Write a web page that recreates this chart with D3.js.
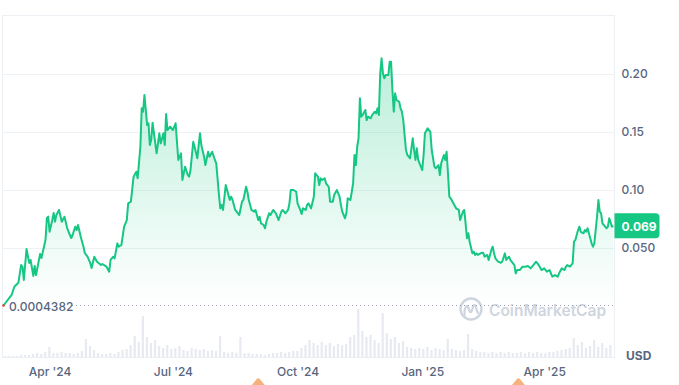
<!DOCTYPE html>
<html>
<head>
<meta charset="utf-8">
<script src="https://cdn.jsdelivr.net/npm/d3@7"></script>
<style>
  body { margin: 0; background: #fff; }
  svg { display: block; font-family: Inter, "Noto Sans", sans-serif; }
</style>
</head>
<body>
<svg width="679" height="385"></svg>
<script>
// ---- data ----
let startDate = new Date(2024, 1, 27);   // first point of the series
let lastPrice = 0.069;
let lowPrice = 0.0004382;

// day offsets from startDate, and price (USD) on that day
let days = [0,6,8,10,11,13,14,15,17,19,20,22,23,24,27,28,31,32,33,34,36,37,38,39,41,43,45,47,48,50,
  51,53,54,55,57,59,60,62,64,65,67,69,72,73,76,78,79,81,82,84,85,87,89,91,92,94,96,98,99,101,
  102,103,104,105,106,107,108,109,110,112,113,115,116,118,119,120,121,123,125,127,129,130,131,132,134,136,137,138,140,141,
  143,145,146,148,149,151,152,154,156,157,159,160,161,162,164,165,167,168,169,171,173,174,176,177,179,180,181,183,185,186,
  188,189,190,192,193,194,196,197,199,201,203,205,206,208,210,211,212,214,216,217,219,220,221,223,224,225,227,229,230,232,
  233,234,235,237,238,239,240,241,243,244,246,248,249,250,252,253,254,256,257,258,259,260,261,262,263,264,265,267,268,269,
  271,272,274,275,276,277,278,279,280,281,282,284,285,286,287,288,289,290,292,293,294,295,297,298,299,300,302,303,304,305,
  306,308,309,310,311,313,315,316,318,319,321,322,323,325,326,327,328,329,330,332,334,336,337,339,340,341,342,343,344,346,
  347,348,349,350,352,354,355,357,358,360,361,362,363,365,367,368,370,371,373,374,375,377,378,379,381,383,385,387,389,391,
  393,395,397,399,401,403,405,407,409,410,412,414,415,416,418,420,421,422,424,425,426,428,429,430,431,433,434,435,436,438,
  439,440,441,442,444,445,446,447,449,450];

let prices = [0.00044,0.0095,0.0166,0.0190,0.0201,0.0353,0.0339,0.0224,0.0491,0.0371,0.0397,0.0259,0.0345,0.0267,0.0448,0.0414,0.0569,0.0759,0.0770,0.0640,0.0741,0.0802,0.0727,0.0784,0.0828,0.0727,0.0770,0.0672,0.0640,0.0586,
  0.0612,0.0684,0.0655,0.0698,0.0597,0.0511,0.0457,0.0425,0.0371,0.0328,0.0425,0.0382,0.0353,0.0362,0.0339,0.0296,0.0397,0.0425,0.0411,0.0540,0.0511,0.0526,0.0684,0.0741,0.0885,0.0899,0.1115,0.1158,0.1101,0.1373,
  0.1704,0.1675,0.1819,0.1690,0.1560,0.1575,0.1388,0.1431,0.1580,0.1402,0.1316,0.1489,0.1402,0.1489,0.1388,0.1655,0.1517,0.1546,0.1517,0.1575,0.1259,0.1287,0.1316,0.1086,0.1201,0.1129,0.1115,0.1172,0.1416,0.1373,
  0.1273,0.1489,0.1388,0.1287,0.1215,0.1330,0.1287,0.1330,0.1259,0.1230,0.0957,0.0842,0.0871,0.0828,0.1043,0.1000,0.0914,0.0942,0.0914,0.0828,0.0799,0.0784,0.0899,0.0914,0.1028,0.0985,0.0914,0.0828,0.0813,0.0828,
  0.0741,0.0770,0.0713,0.0698,0.0670,0.0727,0.0799,0.0784,0.0828,0.0799,0.0741,0.0813,0.0828,0.0799,0.0828,0.0885,0.1000,0.1000,0.0985,0.0885,0.0828,0.0793,0.0842,0.0828,0.0871,0.0885,0.0842,0.0942,0.1144,0.1115,
  0.1043,0.1101,0.1086,0.1101,0.1058,0.1043,0.1028,0.0899,0.0899,0.0957,0.1000,0.0942,0.0871,0.0813,0.0756,0.0799,0.0928,0.0914,0.0985,0.1058,0.1302,0.1215,0.1373,0.1446,0.1790,0.1632,0.1646,0.1690,0.1603,0.1632,
  0.1618,0.1646,0.1675,0.1661,0.1704,0.1646,0.2006,0.2135,0.2006,0.1963,0.1991,0.1991,0.2106,0.2106,0.1862,0.1675,0.1833,0.1776,0.1761,0.1704,0.1675,0.1603,0.1345,0.1302,0.1287,0.1273,0.1446,0.1345,0.1259,0.1359,
  0.1259,0.1201,0.1172,0.1302,0.1489,0.1532,0.1502,0.1345,0.1201,0.1187,0.1215,0.1129,0.1230,0.1302,0.1259,0.1330,0.1144,0.0942,0.0928,0.0885,0.0842,0.0828,0.0741,0.0813,0.0828,0.0713,0.0584,0.0627,0.0554,0.0454,
  0.0468,0.0440,0.0454,0.0440,0.0454,0.0459,0.0425,0.0440,0.0397,0.0483,0.0511,0.0454,0.0411,0.0382,0.0373,0.0382,0.0454,0.0397,0.0425,0.0397,0.0382,0.0353,0.0282,0.0310,0.0310,0.0339,0.0339,0.0345,0.0325,0.0353,
  0.0382,0.0353,0.0310,0.0325,0.0296,0.0310,0.0253,0.0267,0.0253,0.0282,0.0325,0.0310,0.0339,0.0353,0.0339,0.0368,0.0554,0.0569,0.0655,0.0684,0.0640,0.0627,0.0655,0.0640,0.0670,0.0584,0.0540,0.0511,0.0540,0.0770,
  0.0914,0.0813,0.0799,0.0713,0.0684,0.0670,0.0684,0.0756,0.0684,0.0692];

// volume, one bar every 3 days (relative units)
let volumeStep = 3;
let volumes = [1,1,1,1,2,2,2,3,4,3,5,10,4,4,5,4,4,3,4,6,18,11,7,4,3,3,4,3,5,7,
  8,12,21,15,41,20,14,17,11,9,12,8,9,11,7,6,9,8,7,8,6,7,6,21,5,4,5,4,20,4,
  4,3,3,3,2,3,4,4,5,4,5,6,6,9,12,17,14,12,15,12,14,11,13,12,13,20,22,48,26,20,
  22,17,14,44,24,18,20,14,16,10,9,8,9,8,10,7,9,8,7,18,8,7,6,7,23,8,6,5,5,4,
  5,4,5,4,5,4,4,5,4,5,4,5,4,4,5,5,6,7,8,9,19,12,15,9,11,17,10,14,9,12];

let yTicks = [0.05, 0.10, 0.15, 0.20];
let yTickLabels = ["0.050", "0.10", "0.15", "0.20"];
let xTicks = [new Date(2024, 3, 1), new Date(2024, 6, 1), new Date(2024, 9, 1), new Date(2025, 0, 1), new Date(2025, 3, 1)];
let xTickLabels = ["Apr '24", "Jul '24", "Oct '24", "Jan '25", "Apr '25"];
let eventDates = [new Date(2024, 8, 2), new Date(2025, 2, 13)];

// ---- chart ----
let svg = d3.select("svg");
let plotLeft = 2.5, plotRight = 614.5, plotTop = 15.5, plotBottom = 357.5;
let green = "#16c784";
let labelColor = "#58667e";

let series = days.map(function(d, i) {
    return { date: d3.timeDay.offset(startDate, d), price: prices[i] };
});
let endDate = series[series.length - 1].date;

let x = d3.scaleTime()
    .domain([startDate, endDate])
    .range([3.5, 613.3]);

let y = d3.scaleLinear()
    .domain([0, 0.25])
    .range([306, 16]);

let yVol = d3.scaleLinear()
    .domain([0, 50])
    .range([plotBottom - 0.5, plotBottom - 50.5]);

let defs = svg.append("defs");
let grad = defs.append("linearGradient")
    .attr("id", "fillGrad")
    .attr("gradientUnits", "userSpaceOnUse")
    .attr("x1", 0).attr("x2", 0)
    .attr("y1", y(0.22)).attr("y2", y(0));
grad.append("stop").attr("offset", 0).attr("stop-color", green).attr("stop-opacity", 0.3);
grad.append("stop").attr("offset", 1).attr("stop-color", green).attr("stop-opacity", 0.0);

// frame
svg.append("rect")
    .attr("x", plotLeft).attr("y", plotTop)
    .attr("width", plotRight - plotLeft).attr("height", plotBottom - plotTop)
    .attr("fill", "none")
    .attr("stroke", "#eceff3");

// grid
svg.append("g")
    .selectAll("line")
    .data(yTicks)
    .enter().append("line")
    .attr("x1", plotLeft).attr("x2", plotRight)
    .attr("y1", function(d) { return Math.round(y(d)) + 0.5; })
    .attr("y2", function(d) { return Math.round(y(d)) + 0.5; })
    .attr("stroke", "#eff2f5");

// volume bars (thin, very light)
let stepW = x(d3.timeDay.offset(startDate, volumeStep)) - x(startDate);
svg.append("g")
    .selectAll("rect")
    .data(volumes)
    .enter().append("rect")
    .attr("x", function(d, i) { return x(d3.timeDay.offset(startDate, i * volumeStep)); })
    .attr("y", function(d) { return yVol(d); })
    .attr("width", stepW * 0.55)
    .attr("height", function(d) { return yVol(0) - yVol(d); })
    .attr("fill", "#e7eaf0");

// watermark
let wm = svg.append("g");
wm.append("circle")
    .attr("cx", 471).attr("cy", 309).attr("r", 10.5)
    .attr("fill", "none").attr("stroke", "#cfd5df").attr("stroke-width", 2.4);
wm.append("path")
    .attr("d", "M464.5,315 L464.5,311 Q466.5,302 469,309.5 Q471,316 473,306.5 Q475,302 477,311 L478,313")
    .attr("fill", "none").attr("stroke", "#cfd5df").attr("stroke-width", 2.2)
    .attr("stroke-linecap", "round");
wm.append("text")
    .attr("x", 489).attr("y", 310)
    .attr("dominant-baseline", "central")
    .attr("font-size", 15.5).attr("font-weight", 600)
    .attr("fill", "#cfd5df")
    .text("CoinMarketCap");

// area + line
let area = d3.area()
    .x(function(d) { return x(d.date); })
    .y0(y(lowPrice))
    .y1(function(d) { return y(d.price); });

let line = d3.line()
    .x(function(d) { return x(d.date); })
    .y(function(d) { return y(d.price); });

svg.append("path")
    .datum(series)
    .attr("d", area)
    .attr("fill", "url(#fillGrad)");

svg.append("path")
    .datum(series)
    .attr("d", line)
    .attr("fill", "none")
    .attr("stroke", green)
    .attr("stroke-width", 2)
    .attr("stroke-linejoin", "round");

// lowest price marker
svg.append("line")
    .attr("x1", 72).attr("x2", plotRight - 1)
    .attr("y1", y(lowPrice)).attr("y2", y(lowPrice))
    .attr("stroke", "#9aa2b5")
    .attr("stroke-dasharray", "1,3");
svg.append("circle")
    .attr("cx", x(startDate)).attr("cy", y(lowPrice))
    .attr("r", 1.3).attr("fill", "#ea3943");
svg.append("text")
    .attr("x", 9).attr("y", y(lowPrice) + 1)
    .attr("dominant-baseline", "central")
    .attr("font-size", 12).attr("font-weight", 500)
    .attr("fill", labelColor)
    .text(lowPrice.toString());

// y axis labels
let yAxis = svg.append("g")
    .attr("transform", "translate(" + plotRight + ",0)")
    .call(d3.axisRight(y)
        .tickValues(yTicks)
        .tickSize(0)
        .tickPadding(7)
        .tickFormat(function(d, i) { return yTickLabels[i]; }));
yAxis.select(".domain").remove();
yAxis.selectAll("text")
    .attr("font-family", "Inter, sans-serif")
    .attr("font-size", 12).attr("font-weight", 500)
    .attr("fill", labelColor);

// x axis labels
let xAxis = svg.append("g")
    .attr("transform", "translate(0," + plotBottom + ")")
    .call(d3.axisBottom(x)
        .tickValues(xTicks)
        .tickSize(0)
        .tickPadding(10)
        .tickFormat(function(d, i) { return xTickLabels[i]; }));
xAxis.select(".domain").remove();
xAxis.selectAll("text")
    .attr("font-family", "Inter, sans-serif")
    .attr("font-size", 12).attr("font-weight", 500)
    .attr("fill", labelColor);

// current price badge
let yLast = y(series[series.length - 1].price);
svg.append("path")
    .attr("d", "M" + plotRight + "," + (yLast - 12.5) + " h41 a4,4 0 0 1 4,4 v17 a4,4 0 0 1 -4,4 h-41 Z")
    .attr("fill", green);
svg.append("text")
    .attr("x", plotRight + 7).attr("y", yLast + 0.5)
    .attr("dominant-baseline", "central")
    .attr("font-size", 12).attr("font-weight", 700)
    .attr("fill", "#fff")
    .text(lastPrice.toFixed(3));

svg.append("text")
    .attr("x", 626).attr("y", 355)
    .attr("dominant-baseline", "central")
    .attr("font-size", 12).attr("font-weight", 700)
    .attr("fill", labelColor)
    .text("USD");

// event markers, cut by the bottom edge
svg.append("g")
    .selectAll("path")
    .data(eventDates)
    .enter().append("path")
    .attr("d", function(d) {
        let cx = x(d);
        return "M" + (cx - 9) + ",388 L" + (cx - 1.5) + ",379 Q" + cx + ",377.5 " + (cx + 1.5) + ",379 L" + (cx + 9) + ",388 Z";
    })
    .attr("fill", "#f6b27c");
</script>
</body>
</html>
